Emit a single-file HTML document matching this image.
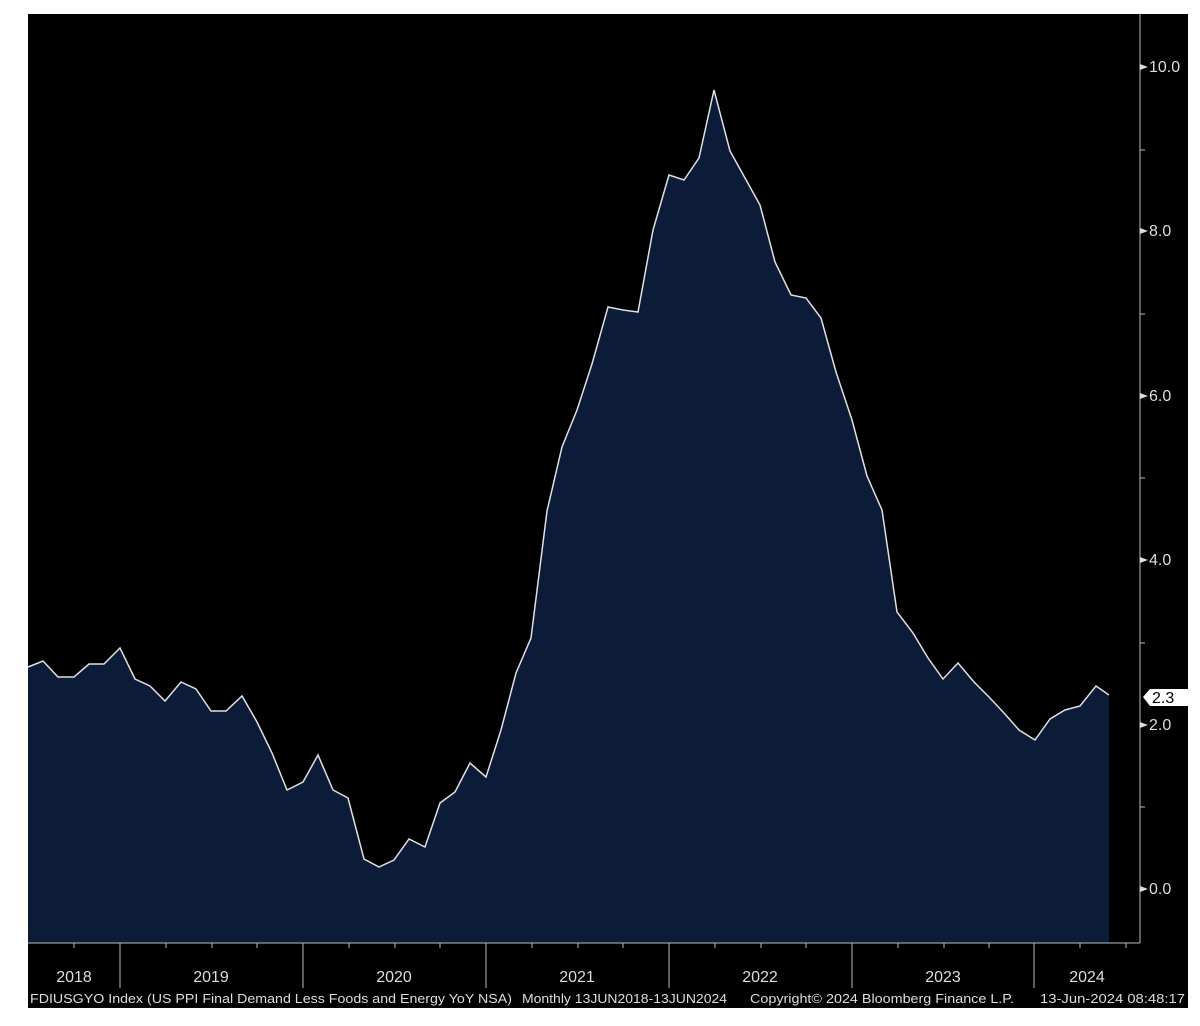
<!DOCTYPE html><html><head><style>body{margin:0;background:#fff}svg{display:block}</style></head><body>
<svg width="1200" height="1026" viewBox="0 0 1200 1026" xmlns="http://www.w3.org/2000/svg" font-family="Liberation Sans, sans-serif">
<rect x="28" y="14" width="1160" height="994" fill="#000"/>
<polygon fill="#0c1c38" points="28,943 28,667 43,661 58,677 74,677 89,664 104,664 120,648 135,679 150,686 165,701 181,682 196,689 211,711 226,711 242,696 257,722 272,753 287,790 303,782 318,755 333,790 348,798 364,859 379,867 394,860 409,839 425,847 440,803 455,792 470,763 486,777 501,730 516,673 531,638 547,511 562,447 577,410 592,364 608,307 623,310 638,312 653,230 669,175 684,180 699,158 714,90 730,151 745,178 760,205 775,262 791,295 806,298 821,318 836,372 852,420 867,476 882,510 897,612 913,633 928,658 943,679 958,663 974,682 989,697 1004,713 1019,730 1035,740 1050,719 1065,710 1080,706 1096,686 1109,695 1109,943"/>
<polyline fill="none" stroke="#e0e0e0" stroke-width="1.5" points="28,667 43,661 58,677 74,677 89,664 104,664 120,648 135,679 150,686 165,701 181,682 196,689 211,711 226,711 242,696 257,722 272,753 287,790 303,782 318,755 333,790 348,798 364,859 379,867 394,860 409,839 425,847 440,803 455,792 470,763 486,777 501,730 516,673 531,638 547,511 562,447 577,410 592,364 608,307 623,310 638,312 653,230 669,175 684,180 699,158 714,90 730,151 745,178 760,205 775,262 791,295 806,298 821,318 836,372 852,420 867,476 882,510 897,612 913,633 928,658 943,679 958,663 974,682 989,697 1004,713 1019,730 1035,740 1050,719 1065,710 1080,706 1096,686 1109,695"/>
<g stroke="#bbb" stroke-width="1">
<line x1="1140" y1="14" x2="1140" y2="943"/>
<line x1="28" y1="943" x2="1140" y2="943"/>
<line x1="120" y1="943" x2="120" y2="988"/><line x1="303" y1="943" x2="303" y2="988"/><line x1="486" y1="943" x2="486" y2="988"/><line x1="669" y1="943" x2="669" y2="988"/><line x1="852" y1="943" x2="852" y2="988"/><line x1="1034" y1="943" x2="1034" y2="988"/>
<path d="M74 943v5M166 943v5M212 943v5M257 943v5M349 943v5M395 943v5M440 943v5M532 943v5M578 943v5M623 943v5M715 943v5M761 943v5M806 943v5M898 943v5M944 943v5M989 943v5M1080 943v5M1126 943v5"/>
<path d="M1140 150h5M1140 314h5M1140 478h5M1140 643h5M1140 807h5"/>
</g>
<g fill="#ddd"><path d="M1140 64l8 3-8 3zM1140 228l8 3-8 3zM1140 393l8 3-8 3zM1140 557l8 3-8 3zM1140 722l8 3-8 3zM1140 886l8 3-8 3z"/></g>
<g fill="#ddd" font-size="16">
<text x="1149" y="72">10.0</text><text x="1149" y="236">8.0</text><text x="1149" y="401">6.0</text><text x="1149" y="565">4.0</text><text x="1149" y="730">2.0</text><text x="1149" y="894">0.0</text>
</g>
<path d="M1143 697l7-8h38v17h-38z" fill="#fff"/>
<text x="1152" y="703" font-size="16" fill="#000">2.3</text>
<g fill="#ddd" font-size="16" text-anchor="middle">
<text x="74" y="982">2018</text><text x="211" y="982">2019</text><text x="394" y="982">2020</text><text x="577" y="982">2021</text><text x="760" y="982">2022</text><text x="943" y="982">2023</text><text x="1087" y="982">2024</text>
</g>
<g fill="#ddd" font-size="12.5">
<text x="30" y="1003" textLength="482" lengthAdjust="spacingAndGlyphs">FDIUSGYO Index (US PPI Final Demand Less Foods and Energy YoY NSA)</text>
<text x="522" y="1003" textLength="205" lengthAdjust="spacingAndGlyphs">Monthly 13JUN2018-13JUN2024</text>
<text x="750" y="1003" textLength="264" lengthAdjust="spacingAndGlyphs">Copyright© 2024 Bloomberg Finance L.P.</text>
<text x="1040" y="1003" textLength="145" lengthAdjust="spacingAndGlyphs">13-Jun-2024 08:48:17</text>
</g>
</svg></body></html>
